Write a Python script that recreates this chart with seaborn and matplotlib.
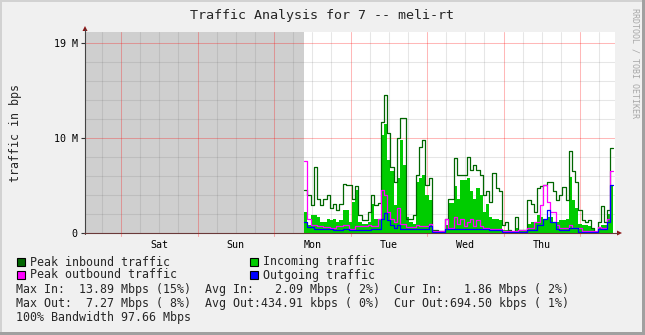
import numpy as np
import pandas as pd
import matplotlib
matplotlib.use("Agg")
import matplotlib.pyplot as plt
import seaborn as sns
from matplotlib.patches import Rectangle, Polygon
from matplotlib.lines import Line2D

# ---------------- data ----------------
title = "Traffic Analysis for 7 -- meli-rt"
y_label = "traffic in bps"
side_text = "RRDTOOL / TOBI OETIKER"
day_labels = ["Sat", "Sun", "Mon", "Tue", "Wed", "Thu"]
day_noons = [0.5, 1.5, 2.5, 3.5, 4.5, 5.5]          # days since Sat 00:00
y_tick_values = [0, 10, 20]
y_tick_labels = ["0", "10 M", "19 M"]
x_range = [-0.4706, 6.4575]                          # days since Sat 00:00
y_max = 21.16
data_start = 2.3958                                  # Mon 09:30
step_days = 1.0 / 24.0

peak_in = [4.5, 4.0, 2.9, 7.0, 3.6, 2.9, 3.6, 4.0, 2.6, 3.1,
           2.4, 3.1, 5.2, 5.1, 5.1, 3.6, 5.0, 1.9, 1.4, 1.4,
           2.2, 4.0, 2.9, 3.2, 11.7, 14.5, 10.5, 7.0, 5.4, 10.0,
           12.1, 12.1, 1.5, 1.5, 1.9, 6.1, 9.1, 9.8, 5.1, 5.8,
           0.3, 0.3, 0.2, 0.2, 1.5, 3.6, 3.6, 7.9, 6.1, 6.1,
           6.1, 8.0, 6.6, 7.2, 6.6, 6.1, 4.0, 4.4, 3.3, 6.3,
           4.7, 4.4, 0.8, 1.2, 0.3, 0.1, 1.7, 0.3, 0.3, 0.3,
           3.5, 3.1, 2.2, 4.7, 4.9, 5.1, 5.4, 5.4, 4.4, 3.5,
           4.0, 4.8, 3.5, 8.6, 6.5, 5.4, 2.4, 1.4, 1.2, 1.4,
           0.5, 0.1, 1.2, 2.8, 1.2, 2.4, 8.9]
incoming = [2.2, 0.8, 1.9, 1.9, 1.7, 1.2, 1.2, 1.5, 1.4, 1.5,
            1.2, 1.4, 2.4, 2.4, 1.2, 3.3, 4.5, 1.2, 1.0, 1.0,
            1.2, 3.1, 1.5, 1.5, 10.3, 11.5, 7.7, 6.5, 2.9, 5.8,
            9.8, 7.2, 1.7, 1.2, 1.0, 5.4, 5.8, 6.1, 4.0, 3.5,
            0.2, 0.2, 0.1, 0.1, 0.8, 3.2, 3.2, 4.9, 3.6, 5.6,
            5.6, 5.8, 4.4, 3.6, 4.7, 4.0, 2.2, 3.1, 1.7, 1.5,
            1.5, 1.4, 0.3, 0.3, 0.1, 0.1, 0.5, 0.2, 0.2, 0.2,
            1.0, 1.2, 1.2, 1.9, 1.7, 1.5, 1.7, 1.7, 1.2, 1.2,
            1.4, 1.4, 1.5, 5.9, 3.5, 2.6, 1.0, 0.8, 0.8, 0.7,
            0.4, 0.2, 0.5, 0.8, 0.8, 2.0, 5.1]
peak_out = [7.6, 1.5, 0.8, 0.8, 0.7, 0.7, 0.6, 0.6, 0.5, 0.5,
            0.7, 0.7, 0.8, 0.8, 0.4, 0.4, 0.7, 0.7, 0.7, 0.7,
            0.8, 0.7, 0.7, 1.5, 4.5, 4.0, 2.2, 1.5, 1.2, 2.6,
            1.0, 1.0, 0.6, 0.6, 0.6, 0.8, 0.7, 0.7, 0.7, 1.0,
            0.2, 0.2, 0.2, 0.2, 1.5, 0.5, 0.5, 1.7, 1.0, 1.5,
            0.7, 1.2, 1.5, 0.7, 1.4, 0.7, 0.5, 0.5, 0.4, 0.4,
            0.4, 0.4, 0.2, 0.2, 0.2, 0.2, 0.2, 0.3, 0.3, 0.3,
            0.5, 0.5, 1.2, 1.2, 2.9, 5.1, 3.3, 2.2, 2.2, 0.8,
            0.5, 0.5, 0.5, 0.8, 0.5, 0.5, 0.5, 0.2, 0.2, 0.2,
            0.2, 0.2, 0.6, 0.5, 0.5, 1.5, 6.5]
outgoing = [1.2, 0.6, 0.6, 0.4, 0.4, 0.4, 0.4, 0.4, 0.4, 0.3,
            0.3, 0.3, 0.4, 0.4, 0.3, 0.3, 0.3, 0.3, 0.3, 0.3,
            0.3, 0.4, 0.4, 0.4, 1.5, 2.1, 1.4, 0.8, 0.5, 0.8,
            0.4, 0.4, 0.4, 0.4, 0.4, 0.4, 0.4, 0.4, 0.4, 0.7,
            0.1, 0.1, 0.1, 0.1, 0.4, 0.4, 0.4, 0.4, 0.4, 0.4,
            0.4, 0.4, 0.4, 0.4, 0.4, 0.4, 0.4, 0.4, 0.3, 0.3,
            0.3, 0.3, 0.1, 0.1, 0.1, 0.1, 0.1, 0.1, 0.1, 0.1,
            0.3, 0.3, 0.3, 0.8, 0.8, 1.5, 2.4, 1.2, 1.2, 0.4,
            0.3, 0.3, 0.3, 0.5, 0.5, 0.5, 0.1, 0.1, 0.1, 0.1,
            0.1, 0.1, 0.4, 0.4, 0.4, 1.2, 5.1]

legend_items = [("Peak inbound traffic", "#006600"), ("Incoming traffic", "#00CC00"),
                ("Peak outbound traffic", "#FF00FF"), ("Outgoing traffic", "#0000FF")]
stats_lines = ["Max In:  13.89 Mbps (15%)  Avg In:   2.09 Mbps ( 2%)  Cur In:   1.86 Mbps ( 2%)",
               "Max Out:  7.27 Mbps ( 8%)  Avg Out:434.91 kbps ( 0%)  Cur Out:694.50 kbps ( 1%)",
               "100% Bandwidth 97.66 Mbps"]

# ---------------- figure ----------------
sns.set_style("white")
plt.rcParams["font.family"] = ["DejaVu Sans Mono", "DejaVu Sans"]

W, H = 645, 335
BG = "#F0F0F0"
fig = plt.figure(figsize=(W / 100, H / 100), dpi=100, facecolor=BG)


def fx(x):
    return x / W


def fy(y):
    return 1 - y / H


AX_L, AX_R, AX_T, AX_B = 85, 615, 32, 233
ax = fig.add_axes([fx(AX_L), fy(AX_B), (AX_R - AX_L) / W, (AX_B - AX_T) / H])
ax.set_facecolor("white")
ax.set_xlim(*x_range)
ax.set_ylim(0, y_max)

# unknown (no data) region
ax.axvspan(x_range[0], data_start, color="#CFCFCF", lw=0, zorder=0.2)

# grid
minor_col = (0.4, 0.4, 0.4, 0.16)
major_col = (1.0, 0.0, 0.0, 0.28)
GLW = 0.75
q = np.arange(-0.25, x_range[1], 0.25)
for v in q:
    if v <= x_range[0]:
        continue
    is_major = abs(v - round(v)) < 1e-6
    ax.axvline(v, color=major_col if is_major else minor_col, lw=GLW, zorder=0.5)
for v in np.arange(2, y_max, 2):
    is_major = abs(v % 10) < 1e-6
    ax.axhline(v, color=major_col if is_major else minor_col, lw=GLW, zorder=0.5)

# data
n = len(peak_in)
t = data_start + np.arange(n + 1) * step_days


def ext(vals):
    return list(vals) + [vals[-1]]


ax.fill_between(t, 0, ext(incoming), step="post", color="#00CC00", lw=0, zorder=2)

df = pd.concat([
    pd.DataFrame({"time": t, "value": ext(peak_in), "series": "Peak inbound traffic"}),
    pd.DataFrame({"time": t, "value": ext(peak_out), "series": "Peak outbound traffic"}),
    pd.DataFrame({"time": t, "value": ext(outgoing), "series": "Outgoing traffic"}),
], ignore_index=True)
sns.lineplot(data=df, x="time", y="value", hue="series",
             hue_order=["Peak inbound traffic", "Peak outbound traffic", "Outgoing traffic"],
             palette=["#006600", "#FF00FF", "#0000FF"],
             estimator=None, sort=False, legend=False, drawstyle="steps-post",
             linewidth=0.9, ax=ax, zorder=3)

# axes decoration
for s in ax.spines.values():
    s.set_visible(False)
ax.set_xlabel("")
ax.set_ylabel("")
ax.set_xticks(day_noons, labels=day_labels)
ax.set_yticks(y_tick_values, labels=y_tick_labels)
ax.tick_params(axis="x", length=0, pad=5, labelsize=7.2, colors="black")
ax.tick_params(axis="y", length=3, width=0.8, pad=2.2, labelsize=7.2, colors="#333333",
               labelcolor="black", left=True)

axis_col = "#444444"
fig.add_artist(Line2D([fx(AX_L), fx(AX_L)], [fy(AX_B + 1), fy(AX_T - 3)], color=axis_col, lw=0.8))
fig.add_artist(Line2D([fx(AX_L - 1), fx(AX_R + 3)], [fy(AX_B), fy(AX_B)], color="#6B3A3A", lw=0.8))
arrow_col = "#8B1515"
fig.add_artist(Polygon([[fx(AX_L - 2.5), fy(AX_T - 1)], [fx(AX_L + 2.5), fy(AX_T - 1)],
                        [fx(AX_L), fy(AX_T - 6)]], closed=True, color=arrow_col, lw=0))
fig.add_artist(Polygon([[fx(AX_R + 2), fy(AX_B - 2.5)], [fx(AX_R + 2), fy(AX_B + 2.5)],
                        [fx(AX_R + 7), fy(AX_B)]], closed=True, color=arrow_col, lw=0))
# small ticks at midnights below axis
for d in range(0, 7):
    xp = AX_L + (d - x_range[0]) / (x_range[1] - x_range[0]) * (AX_R - AX_L)
    fig.add_artist(Line2D([fx(xp), fx(xp)], [fy(AX_B), fy(AX_B + 3)], color=(1, 0, 0, 0.3), lw=0.75))

# texts
fig.text(fx(322), fy(16), title, ha="center", va="center", fontsize=9.6)
fig.text(fx(16), fy(133), y_label, ha="center", va="center", rotation=90, fontsize=8.4)
fig.text(fx(635), fy(63), side_text, ha="center", va="center", rotation=270,
         fontsize=6, color="#A8A8A8")

# legend
leg_pos = [(17, 258), (250, 258), (17, 271), (250, 271)]
for (label, col), (lx, ly) in zip(legend_items, leg_pos):
    fig.add_artist(Rectangle((fx(lx), fy(ly + 8)), 8 / W, 8 / H, facecolor=col,
                             edgecolor="black", lw=0.8))
    fig.text(fx(lx + 13), fy(ly + 4), label, ha="left", va="center", fontsize=8.4)

for i, line in enumerate(stats_lines):
    fig.text(fx(16), fy(289 + i * 14), line, ha="left", va="center", fontsize=8.4)

# canvas border
fig.add_artist(Rectangle((0, fy(2)), 1, 2 / H, color="#D2D2D2", lw=0))
fig.add_artist(Rectangle((0, 0), 2 / W, 1, color="#D2D2D2", lw=0))
fig.add_artist(Rectangle((0, 0), 1, 3 / H, color="#A0A0A0", lw=0))
fig.add_artist(Rectangle((fx(W - 3), 0), 3 / W, 1, color="#A0A0A0", lw=0))

fig.savefig("out.png", dpi=100, facecolor=BG)
